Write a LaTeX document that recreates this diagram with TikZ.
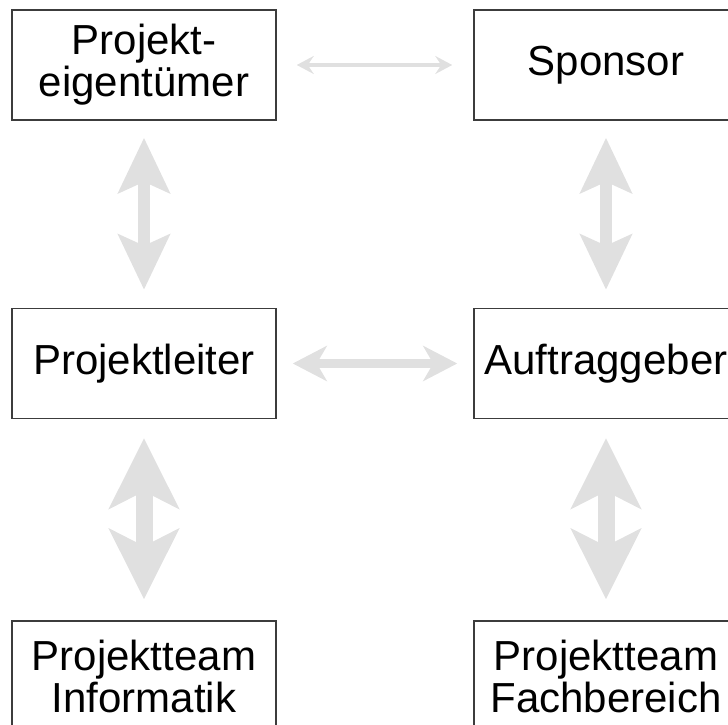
\documentclass[tikz,border=0pt]{standalone}
\usepackage{fontspec}
\setmainfont{Liberation Sans}
\usepackage{xcolor}
\definecolor{lightarrow}{RGB}{224,224,224}
\definecolor{boxline}{RGB}{60,60,60}
\usetikzlibrary{arrows.meta}
\tikzset{
  rolebox/.style={
    draw=boxline, line width=1.5pt, fill=white,
    minimum width=264pt, minimum height=110pt,
    align=center, inner sep=0pt,
    font=\fontsize{42}{42}\selectfont
  }}
\tikzset{
  thinlink/.style={
    draw=lightarrow, line width=4pt,
    {Stealth[length=17pt,width=18pt,inset=6pt]}-{Stealth[length=17pt,width=18pt,inset=6pt]}
  }}
\tikzset{
  midlink/.style={
    draw=lightarrow, line width=9pt,
    {Stealth[length=34pt,width=35pt,inset=10pt]}-{Stealth[length=34pt,width=35pt,inset=10pt]}
  }}
\tikzset{
  uplink/.style={
    draw=lightarrow, line width=12pt,
    {Stealth[length=55pt,width=51pt,inset=11pt]}-{Stealth[length=55pt,width=51pt,inset=11pt]}
  }}
\tikzset{
  teamlink/.style={
    draw=lightarrow, line width=17pt,
    {Stealth[length=70pt,width=69pt,inset=17pt]}-{Stealth[length=70pt,width=69pt,inset=17pt]}
  }}

\begin{document}
\begin{tikzpicture}[x=1pt,y=-1pt]
    \useasboundingbox (0,0) rectangle (728,725);
    \clip (0,0) rectangle (728,725);
%   boxes
    \node[rolebox](eigner) at (144,65) {Projekt-\\eigentümer};
    \node[rolebox](sponsor) at (606,65) {Sponsor};
    \node[rolebox](leiter) at (144,363.5) {Projektleiter};
    \node[rolebox](auftrag) at (606,363.5) {Auftraggeber};
    \node[rolebox](teamit) at (144,676) {Projektteam\\Informatik};
    \node[rolebox](teamfb) at (606,676) {Projektteam\\Fachbereich};
%   links
    \draw[thinlink,shorten <=20pt,shorten >=21pt] (eigner.east) -- (sponsor.west);
    \draw[midlink,shorten <=16pt,shorten >=16pt] (leiter.east) -- (auftrag.west);
    \draw[uplink,shorten <=17pt,shorten >=18pt] (eigner.south) -- (leiter.north);
    \draw[uplink,shorten <=17pt,shorten >=18pt] (sponsor.south) -- (auftrag.north);
    \draw[teamlink,shorten <=19pt,shorten >=21pt] (leiter.south) -- (teamit.north);
    \draw[teamlink,shorten <=19pt,shorten >=21pt] (auftrag.south) -- (teamfb.north);
\end{tikzpicture}
\end{document}
